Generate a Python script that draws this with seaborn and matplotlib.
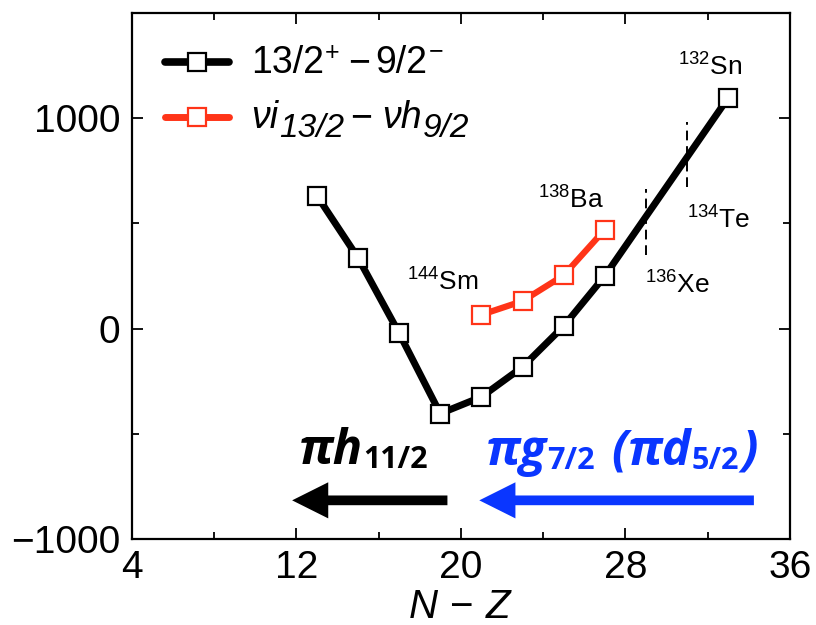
import matplotlib
matplotlib.use("Agg")
import matplotlib.pyplot as plt
from matplotlib.ticker import MultipleLocator
from matplotlib.lines import Line2D
import seaborn as sns
import pandas as pd

# N - Z of the N = 83 isotones and the measured energy differences (keV)
nz_black = [13, 15, 17, 19, 21, 23, 25, 27, 33]
e_black = [632, 337, -21, -403, -324, -182, 12, 250, 1096]

nz_red = [21, 23, 25, 27]
e_red = [66, 131, 253, 470]

# core nuclei labels: mass number, element, x, y (baseline)
core_mass = ["132", "134", "136", "138", "144"]
core_elem = ["Sn", "Te", "Xe", "Ba", "Sm"]
core_x = [30.57, 31.0, 28.97, 23.77, 17.39]
core_y = [1202, 476, 167, 571, 182]

# vertical dashed markers (x, ymin, ymax)
dash_x = [29, 31]
dash_lo = [348, 672]
dash_hi = [664, 980]

RED = "#ff3418"
BLUE = "#0a36ff"
W, H = 816, 625

sns.set_theme(style="ticks")
plt.rcParams["font.family"] = ["Liberation Sans", "DejaVu Sans"]
for key in ["text.color", "axes.labelcolor", "xtick.color", "ytick.color",
            "axes.edgecolor"]:
    plt.rcParams[key] = "black"
plt.rcParams["mathtext.fontset"] = "custom"
plt.rcParams["mathtext.rm"] = "Liberation Sans"
plt.rcParams["mathtext.it"] = "Liberation Sans:italic"

fig = plt.figure(figsize=(W / 100, H / 100), dpi=100)
ax = fig.add_axes([0.1614, 0.1371, 0.968 - 0.1614, 0.9797 - 0.1371])

df_black = pd.DataFrame({"nz": nz_black, "e": e_black})
df_red = pd.DataFrame({"nz": nz_red, "e": e_red})

black_style = dict(color="black", lw=5, marker="s", markersize=13.5,
                   markerfacecolor="white", markeredgecolor="black",
                   markeredgewidth=1.6)
red_style = dict(color=RED, lw=4.5, marker="s", markersize=13.5,
                 markerfacecolor="white", markeredgecolor=RED,
                 markeredgewidth=1.6)

sns.lineplot(data=df_black, x="nz", y="e", ax=ax, legend=False, zorder=3,
             **black_style)
sns.lineplot(data=df_red, x="nz", y="e", ax=ax, legend=False, zorder=3,
             **red_style)

for x, lo, hi in zip(dash_x, dash_lo, dash_hi):
    ax.plot([x, x], [lo, hi], color="black", lw=1.4, ls=(0, (5, 3)), zorder=2)

for m, el, x, y in zip(core_mass, core_elem, core_x, core_y):
    ax.text(x, y, rf"$^{{{m}}}$" + el, fontsize=19, ha="left", va="baseline")

# arrows showing the proton orbital being filled
arrow_style = "simple,head_length=2.6,head_width=2.6,tail_width=0.7"
ax.annotate("", xy=(11.8, -815), xytext=(19.35, -815),
            arrowprops=dict(arrowstyle=arrow_style, mutation_scale=10,
                            color="black", lw=0, shrinkA=0, shrinkB=0))
ax.annotate("", xy=(20.9, -815), xytext=(34.25, -815),
            arrowprops=dict(arrowstyle=arrow_style, mutation_scale=10,
                            color=BLUE, lw=0, shrinkA=0, shrinkB=0))

ax.set_xlim(4, 36)
ax.set_ylim(-1000, 1500)
ax.xaxis.set_major_locator(MultipleLocator(8, offset=4))
ax.xaxis.set_minor_locator(MultipleLocator(4))
ax.yaxis.set_major_locator(MultipleLocator(1000))
ax.yaxis.set_minor_locator(MultipleLocator(500))
ax.tick_params(which="both", direction="in", top=True, right=True,
               width=1.3, labelsize=28, pad=8, color="black")
ax.tick_params(which="major", length=8)
ax.tick_params(which="minor", length=5)
for s in ax.spines.values():
    s.set_linewidth(1.6)

ax.set_xlabel(r"$N\,-\,Z$", fontsize=29, labelpad=1)
ax.set_ylabel("")

fig.canvas.draw()
renderer = fig.canvas.get_renderer()


def run_text(x_px, base_px, pieces, color="black"):
    """Lay out text pieces left to right on a common baseline.

    x_px, base_px are in pixels from the top-left corner of the figure.
    Each piece: (text, size, raise_px, gap_px, font properties)."""
    x = x_px
    for s, size, rise, gap, props in pieces:
        x += gap
        t = fig.text(x / W, (H - base_px + rise) / H, s, fontsize=size,
                     color=color, ha="left", va="baseline", **props)
        x += t.get_window_extent(renderer).width


sans = dict(family="Liberation Sans")
sans_it = dict(family="Liberation Sans", style="italic")
os_bi = dict(family="Open Sans", weight="bold", style="italic")
os_b = dict(family="Open Sans", weight="bold")

# legend
for y_px, style in [(62, black_style), (117, red_style)]:
    fig.add_artist(Line2D([165 / W, 229 / W], [(H - y_px) / H] * 2,
                          transform=fig.transFigure, color=style["color"],
                          lw=style["lw"] + 0.5))
    fig.add_artist(Line2D([197 / W], [(H - y_px) / H],
                          transform=fig.transFigure, ls="none",
                          marker="s", markersize=style["markersize"],
                          markerfacecolor="white",
                          markeredgecolor=style["markeredgecolor"],
                          markeredgewidth=style["markeredgewidth"]))

run_text(251, 73, [
    ("13/2", 27, 0, 0, sans),
    ("+", 18, 13, 1, sans),
    ("\u2212", 27, 0, 9, sans),
    ("9/2", 27, 0, 5, sans),
    ("\u2212", 18, 15, 1, sans),
])
run_text(251, 128, [
    ("\u03bdi", 27, 0, 0, sans_it),
    ("13/2", 24, -9, 1, sans_it),
    ("\u2212", 27, 0, 6, sans),
    ("\u03bdh", 27, 0, 10, sans_it),
    ("9/2", 24, -9, 1, sans_it),
])

# proton orbital labels
run_text(299, 464, [
    ("\u03c0h", 35, 0, 0, os_bi),
    ("11/2", 22, -4, 0, os_b),
])
run_text(486, 465, [
    ("\u03c0g", 35, 0, 0, os_bi),
    ("7/2", 22, -4, 0, os_b),
    ("(", 35, 0, 17, os_bi),
    ("\u03c0d", 35, 0, 0, os_bi),
    ("5/2", 22, -4, 0, os_b),
    (")", 35, 0, 2, os_bi),
], color=BLUE)

fig.savefig("out.png", dpi=100)
